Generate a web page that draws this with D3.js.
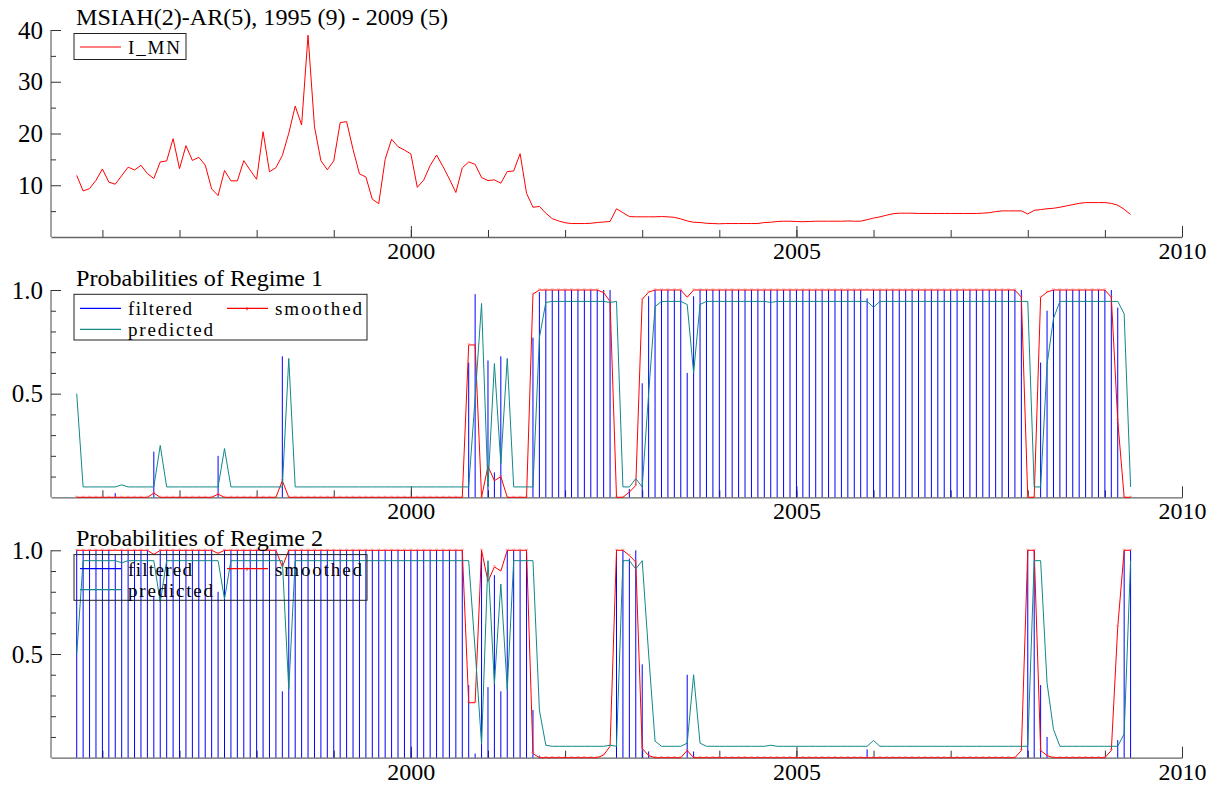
<!DOCTYPE html>
<html>
<head>
<meta charset="utf-8">
<script src="https://cdn.jsdelivr.net/npm/d3@7"></script>
<style>
  body { margin: 0; background: #fff; }
  svg { display: block; }
  text { font-family: "Liberation Serif", "DejaVu Serif", serif; fill: #000; }
</style>
</head>
<body>
<svg id="chart" width="1207" height="788"></svg>
<script>
// MSIAH(2)-AR(5) : série I_MN + probabilités des régimes (mensuel, 1995(9) - 2009(5))

const startYear = 1995, startMonth = 9;
const SERIF = '"Liberation Serif", "DejaVu Serif", serif';

// Série observée I_MN
const imn = [
  11.9, 8.9, 9.35, 10.95, 13.15, 10.6, 10.2, 11.85, 13.5, 12.95,
  13.85, 12.25, 11.3, 14.5, 14.7, 19.0, 13.2, 17.65, 14.8, 15.4,
  13.9, 9.3, 8.0, 12.85, 10.85, 10.85, 14.75, 12.9, 11.15, 20.35,
  12.6, 13.4, 15.75, 20.05, 25.3, 21.65, 39.0, 21.3, 14.75, 13.0,
  14.7, 22.1, 22.3, 16.95, 12.2, 11.6, 7.3, 6.45, 15.0, 18.9,
  17.45, 16.8, 16.05, 9.6, 11.0, 13.8, 15.85, 13.6, 11.2, 8.6,
  13.35, 14.5, 14.05, 11.5, 10.9, 11.05, 10.4, 12.65, 12.75, 16.1,
  8.45, 5.75, 5.9, 4.6, 3.55, 3.1, 2.75, 2.6, 2.6, 2.6,
  2.65, 2.8, 2.9, 3.0, 5.45, 4.7, 3.95, 3.9, 3.9, 3.9,
  3.9, 3.95, 3.9, 3.8, 3.5, 3.1, 2.85, 2.8, 2.65, 2.6,
  2.55, 2.6, 2.6, 2.6, 2.6, 2.6, 2.6, 2.8, 2.85, 3.0,
  3.05, 3.05, 3.0, 2.95, 3.0, 3.05, 3.05, 3.05, 3.05, 3.05,
  3.1, 3.05, 3.05, 3.35, 3.65, 3.9, 4.2, 4.5, 4.6, 4.6,
  4.6, 4.55, 4.55, 4.55, 4.55, 4.55, 4.55, 4.55, 4.55, 4.55,
  4.55, 4.6, 4.7, 4.9, 5.05, 5.05, 5.05, 5.05, 4.45, 5.15,
  5.3, 5.45, 5.55, 5.75, 6.0, 6.25, 6.5, 6.65, 6.65, 6.65,
  6.65, 6.5, 6.15, 5.35, 4.35
];

// Régime 1
const filtered1 = [
  0, 0, 0, 0, 0, 0, 0.02, 0, 0, 0,
  0, 0, 0.22, 0, 0, 0, 0, 0, 0, 0,
  0, 0, 0.2, 0, 0, 0, 0, 0, 0, 0,
  0, 0, 0.68, 0, 0, 0, 0, 0, 0, 0,
  0, 0, 0, 0, 0, 0, 0, 0, 0, 0,
  0, 0, 0, 0, 0, 0, 0, 0, 0, 0,
  0, 0.65, 0.98, 0, 0.66, 0.12, 0.68, 0, 0, 0,
  0, 0.77, 0.99, 1, 1, 1, 1, 1, 1, 1,
  1, 1, 1, 1, 0, 0, 0.04, 0, 0.55, 0.97,
  1, 1, 1, 1, 1, 0.6, 0.97, 1, 1, 1,
  1, 1, 1, 1, 1, 1, 1, 1, 1, 1,
  1, 1, 1, 1, 1, 1, 1, 1, 1, 1,
  1, 1, 1, 0.96, 1, 1, 1, 1, 1, 1,
  1, 1, 1, 1, 1, 1, 1, 1, 1, 1,
  1, 1, 1, 1, 1, 1, 1, 1, 0, 0,
  0.65, 0.9, 1, 1, 1, 1, 1, 1, 1, 1,
  1, 1, 0.915, 0, 0
];
const smoothed1 = [
  0, 0, 0, 0, 0, 0, 0, 0, 0, 0,
  0, 0, 0.02, 0, 0, 0, 0, 0, 0, 0,
  0, 0, 0.015, 0, 0, 0, 0, 0, 0, 0,
  0, 0, 0.08, 0, 0, 0, 0, 0, 0, 0,
  0, 0, 0, 0, 0, 0, 0, 0, 0, 0,
  0, 0, 0, 0, 0, 0, 0, 0, 0, 0,
  0, 0.735, 0.735, 0, 0.15, 0.08, 0.1, 0, 0, 0,
  0, 0.98, 1, 1, 1, 1, 1, 1, 1, 1,
  1, 1, 0.987, 0.945, 0, 0, 0.025, 0.057, 0.955, 0.99,
  1, 1, 1, 1, 1, 0.965, 1, 1, 1, 1,
  1, 1, 1, 1, 1, 1, 1, 1, 1, 1,
  1, 1, 1, 1, 1, 1, 1, 1, 1, 1,
  1, 1, 1, 1, 1, 1, 1, 1, 1, 1,
  1, 1, 1, 1, 1, 1, 1, 1, 1, 1,
  1, 1, 1, 1, 1, 1, 1, 0.965, 0, 0,
  0.965, 0.99, 1, 1, 1, 1, 1, 1, 1, 1,
  1, 0.965, 0.37, 0, 0
];
const predicted1 = [
  0.5, 0.05, 0.05, 0.05, 0.05, 0.05, 0.05, 0.06, 0.05, 0.05,
  0.05, 0.05, 0.05, 0.25, 0.05, 0.05, 0.05, 0.05, 0.05, 0.05,
  0.05, 0.05, 0.05, 0.235, 0.05, 0.05, 0.05, 0.05, 0.05, 0.05,
  0.05, 0.05, 0.05, 0.67, 0.05, 0.05, 0.05, 0.05, 0.05, 0.05,
  0.05, 0.05, 0.05, 0.05, 0.05, 0.05, 0.05, 0.05, 0.05, 0.05,
  0.05, 0.05, 0.05, 0.05, 0.05, 0.05, 0.05, 0.05, 0.05, 0.05,
  0.05, 0.05, 0.48, 0.935, 0.05, 0.645, 0.163, 0.67, 0.05, 0.05,
  0.05, 0.05, 0.77, 0.94, 0.945, 0.945, 0.945, 0.945, 0.945, 0.945,
  0.945, 0.945, 0.945, 0.94, 0.945, 0.05, 0.05, 0.09, 0.05, 0.5,
  0.92, 0.945, 0.945, 0.945, 0.945, 0.93, 0.6, 0.93, 0.945, 0.945,
  0.945, 0.945, 0.945, 0.945, 0.945, 0.945, 0.945, 0.945, 0.94, 0.945,
  0.945, 0.945, 0.945, 0.945, 0.945, 0.945, 0.945, 0.945, 0.945, 0.945,
  0.945, 0.945, 0.945, 0.945, 0.917, 0.945, 0.945, 0.945, 0.945, 0.945,
  0.945, 0.945, 0.945, 0.945, 0.945, 0.945, 0.945, 0.945, 0.945, 0.945,
  0.945, 0.945, 0.945, 0.945, 0.945, 0.945, 0.945, 0.945, 0.945, 0.05,
  0.05, 0.64, 0.863, 0.945, 0.945, 0.945, 0.945, 0.945, 0.945, 0.945,
  0.945, 0.945, 0.945, 0.885, 0.05
];

// Régime 2
const filtered2 = [
  1, 1, 1, 1, 1, 1, 0.98, 1, 1, 1,
  1, 1, 0.78, 1, 1, 1, 1, 1, 1, 1,
  1, 1, 0.8, 1, 1, 1, 1, 1, 1, 1,
  1, 1, 0.32, 1, 1, 1, 1, 1, 1, 1,
  1, 1, 1, 1, 1, 1, 1, 1, 1, 1,
  1, 1, 1, 1, 1, 1, 1, 1, 1, 1,
  1, 0.35, 0.02, 1, 0.34, 0.88, 0.32, 1, 1, 1,
  1, 0.23, 0.01, 0, 0, 0, 0, 0, 0, 0,
  0, 0, 0, 0, 1, 1, 0.96, 1, 0.45, 0.03,
  0, 0, 0, 0, 0, 0.4, 0.03, 0, 0, 0,
  0, 0, 0, 0, 0, 0, 0, 0, 0, 0,
  0, 0, 0, 0, 0, 0, 0, 0, 0, 0,
  0, 0, 0, 0.04, 0, 0, 0, 0, 0, 0,
  0, 0, 0, 0, 0, 0, 0, 0, 0, 0,
  0, 0, 0, 0, 0, 0, 0, 0, 1, 1,
  0.35, 0.1, 0, 0, 0, 0, 0, 0, 0, 0,
  0, 0, 0.085, 1, 1
];
const smoothed2 = [
  1, 1, 1, 1, 1, 1, 1, 1, 1, 1,
  1, 1, 0.98, 1, 1, 1, 1, 1, 1, 1,
  1, 1, 0.985, 1, 1, 1, 1, 1, 1, 1,
  1, 1, 0.92, 1, 1, 1, 1, 1, 1, 1,
  1, 1, 1, 1, 1, 1, 1, 1, 1, 1,
  1, 1, 1, 1, 1, 1, 1, 1, 1, 1,
  1, 0.265, 0.265, 1, 0.85, 0.92, 0.9, 1, 1, 1,
  1, 0.02, 0, 0, 0, 0, 0, 0, 0, 0,
  0, 0, 0.013, 0.055, 1, 1, 0.975, 0.943, 0.045, 0.01,
  0, 0, 0, 0, 0, 0.035, 0, 0, 0, 0,
  0, 0, 0, 0, 0, 0, 0, 0, 0, 0,
  0, 0, 0, 0, 0, 0, 0, 0, 0, 0,
  0, 0, 0, 0, 0, 0, 0, 0, 0, 0,
  0, 0, 0, 0, 0, 0, 0, 0, 0, 0,
  0, 0, 0, 0, 0, 0, 0, 0.035, 1, 1,
  0.035, 0.01, 0, 0, 0, 0, 0, 0, 0, 0,
  0, 0.035, 0.63, 1, 1
];
const predicted2 = [
  0.5, 0.95, 0.95, 0.95, 0.95, 0.95, 0.95, 0.94, 0.95, 0.95,
  0.95, 0.95, 0.95, 0.75, 0.95, 0.95, 0.95, 0.95, 0.95, 0.95,
  0.95, 0.95, 0.95, 0.765, 0.95, 0.95, 0.95, 0.95, 0.95, 0.95,
  0.95, 0.95, 0.95, 0.33, 0.95, 0.95, 0.95, 0.95, 0.95, 0.95,
  0.95, 0.95, 0.95, 0.95, 0.95, 0.95, 0.95, 0.95, 0.95, 0.95,
  0.95, 0.95, 0.95, 0.95, 0.95, 0.95, 0.95, 0.95, 0.95, 0.95,
  0.95, 0.95, 0.52, 0.065, 0.95, 0.355, 0.837, 0.33, 0.95, 0.95,
  0.95, 0.95, 0.23, 0.06, 0.055, 0.055, 0.055, 0.055, 0.055, 0.055,
  0.055, 0.055, 0.055, 0.06, 0.055, 0.95, 0.95, 0.91, 0.95, 0.5,
  0.08, 0.055, 0.055, 0.055, 0.055, 0.07, 0.4, 0.07, 0.055, 0.055,
  0.055, 0.055, 0.055, 0.055, 0.055, 0.055, 0.055, 0.055, 0.06, 0.055,
  0.055, 0.055, 0.055, 0.055, 0.055, 0.055, 0.055, 0.055, 0.055, 0.055,
  0.055, 0.055, 0.055, 0.055, 0.083, 0.055, 0.055, 0.055, 0.055, 0.055,
  0.055, 0.055, 0.055, 0.055, 0.055, 0.055, 0.055, 0.055, 0.055, 0.055,
  0.055, 0.055, 0.055, 0.055, 0.055, 0.055, 0.055, 0.055, 0.055, 0.95,
  0.95, 0.36, 0.137, 0.055, 0.055, 0.055, 0.055, 0.055, 0.055, 0.055,
  0.055, 0.055, 0.055, 0.115, 0.95
];

// Graduations
const yearTicks = d3.range(1996, 2011);
const yearLabels = [2000, 2005, 2010];

const svg = d3.select("#chart");

// Échelle temporelle commune (année décimale)
const x = d3.scaleLinear().domain([1995 + 4 / 12, 2010]).range([51, 1182]);
const dateOf = i => startYear + (startMonth - 1) / 12 + i / 12;

const AXIS = "#666", TICK = "#333";

function drawAxes(y, majors, minors, fmt) {
  const g = svg.append("g");
  // axe X : années mineures puis majeures avec libellés
  g.append("g")
    .attr("transform", `translate(0,${y.range()[0]})`)
    .call(d3.axisBottom(x).tickValues(yearTicks).tickSize(-7).tickSizeOuter(0).tickFormat(""))
    .call(s => s.select(".domain").attr("stroke", AXIS).attr("stroke-width", 1.3));
  g.append("g")
    .attr("transform", `translate(0,${y.range()[0]})`)
    .call(d3.axisBottom(x).tickValues(yearLabels).tickSize(-11).tickSizeOuter(0)
      .tickPadding(5).tickFormat(d3.format("d")))
    .call(s => s.select(".domain").remove())
    .call(s => s.selectAll("text").style("font-size", "24px").style("font-family", SERIF));
  // axe Y
  g.append("g")
    .attr("transform", "translate(51,0)")
    .call(d3.axisLeft(y).tickValues(minors).tickSize(-5).tickSizeOuter(0).tickFormat(""))
    .call(s => s.select(".domain").attr("stroke", AXIS).attr("stroke-width", 1.2)
      .attr("d", `M0,${y.range()[1]}V${y.range()[0]}`));
  g.append("g")
    .attr("transform", "translate(51,0)")
    .call(d3.axisLeft(y).tickValues(majors).tickSize(-10).tickSizeOuter(0)
      .tickPadding(8).tickFormat(fmt))
    .call(s => s.select(".domain").remove())
    .call(s => s.selectAll("text").style("font-size", "25px").style("font-family", SERIF));
  g.selectAll(".tick line").attr("stroke", TICK);
  g.selectAll("g").attr("font-family", null).attr("font-size", null);
}

function legend(x0, y0, w, h, items) {
  const g = svg.append("g");
  g.append("rect").attr("x", x0).attr("y", y0).attr("width", w).attr("height", h)
    .attr("fill", "none").attr("stroke", "#222").attr("stroke-width", 1);
  items.forEach(it => {
    g.append("line").attr("x1", it.x).attr("x2", it.x + 41).attr("y1", it.y).attr("y2", it.y)
      .attr("stroke", it.color).attr("stroke-width", 1.2);
    if (it.marker) {
      g.append("line").attr("x1", it.x + 20).attr("x2", it.x + 20).attr("y1", it.y - 1).attr("y2", it.y + 2)
        .attr("stroke", it.color).attr("stroke-width", 1);
    }
    g.append("text").attr("x", it.x + 48).attr("y", it.y + 7)
      .attr("textLength", it.len).attr("lengthAdjust", "spacing")
      .style("font-size", "19px").style("font-family", SERIF).text(it.label);
  });
}

// --- PANNEAU 1 : I_MN ---
const y1 = d3.scaleLinear().domain([0, 40]).range([237, 30]);
drawAxes(y1, [10, 20, 30, 40], [5, 15, 25, 35], d3.format("d"));
svg.append("path")
  .datum(imn)
  .attr("fill", "none").attr("stroke", "#ff0000").attr("stroke-width", 1)
  .attr("d", d3.line().x((d, i) => x(dateOf(i))).y(d => y1(d)));
svg.append("text").attr("x", 76).attr("y", 25)
  .style("font-size", "24px").style("font-family", SERIF)
  .attr("textLength", 372).attr("lengthAdjust", "spacingAndGlyphs")
  .text("MSIAH(2)-AR(5), 1995 (9) - 2009 (5)");
legend(74, 33.5, 112, 26, [{ x: 80, y: 47, color: "#ff0000", label: "I_MN", len: 52 }]);

// --- PANNEAUX 2 et 3 : probabilités ---
function probPanel(top, bottom, title, filtered, smoothed, predicted) {
  const y = d3.scaleLinear().domain([0, 1]).range([bottom, top]);
  drawAxes(y, [0.5, 1.0], [0.1, 0.2, 0.3, 0.4, 0.6, 0.7, 0.8, 0.9], d3.format(".1f"));

  // filtrées : bâtons verticaux
  svg.append("g").selectAll("line")
    .data(filtered)
    .join("line")
    .attr("x1", (d, i) => x(dateOf(i))).attr("x2", (d, i) => x(dateOf(i)))
    .attr("y1", y(0)).attr("y2", d => y(d))
    .attr("stroke", "#0000ff").attr("stroke-width", 1);

  // lissées
  svg.append("path")
    .datum(smoothed)
    .attr("fill", "none").attr("stroke", "#ff0000").attr("stroke-width", 1)
    .attr("d", d3.line().x((d, i) => x(dateOf(i))).y(d => y(d)));
  svg.append("g").selectAll("line")
    .data(smoothed)
    .join("line")
    .attr("x1", (d, i) => x(dateOf(i)) - 1.5).attr("x2", (d, i) => x(dateOf(i)) + 1.5)
    .attr("y1", d => y(d) - 1).attr("y2", d => y(d) - 1)
    .attr("stroke", "#ff6060").attr("stroke-width", 1).attr("opacity", 0.6);

  // prédites
  svg.append("path")
    .datum(predicted)
    .attr("fill", "none").attr("stroke", "#108888").attr("stroke-width", 1)
    .attr("d", d3.line().x((d, i) => x(dateOf(i))).y(d => y(d)));

  svg.append("text").attr("x", 76).attr("y", top - 4)
    .style("font-size", "24px").style("font-family", SERIF)
    .attr("textLength", 247).attr("lengthAdjust", "spacingAndGlyphs").text(title);

  legend(74, top + 4.3, 293, 45.7, [
    { x: 80, y: top + 18.3, color: "#0000ff", label: "filtered", len: 64 },
    { x: 227, y: top + 18.3, color: "#ff0000", label: "smoothed", len: 87, marker: true },
    { x: 80, y: top + 39.3, color: "#108888", label: "predicted", len: 85 }
  ]);
}

probPanel(290, 497.3, "Probabilities of Regime 1", filtered1, smoothed1, predicted1);
probPanel(550.3, 757.7, "Probabilities of Regime 2", filtered2, smoothed2, predicted2);
</script>
</body>
</html>
